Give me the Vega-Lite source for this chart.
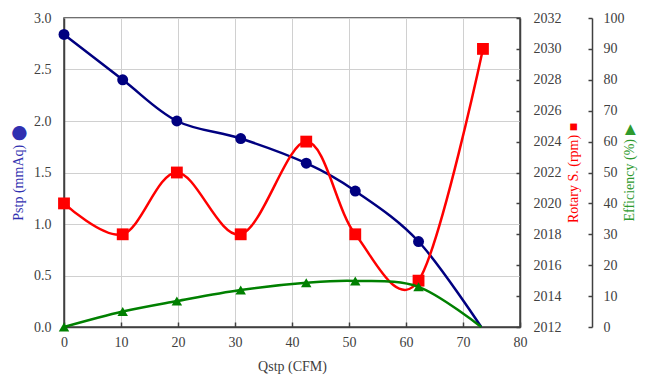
{
  "$schema": "https://vega.github.io/schema/vega-lite/v6.json",
  "width": 456,
  "height": 309,
  "autosize": {"type": "none"},
  "padding": {"left": 64, "top": 18, "right": 127, "bottom": 63},
  "background": "white",
  "config": {
    "font": "Times New Roman",
    "view": {"stroke": "#404040", "strokeWidth": 1.5},
    "style": {
      "guide-label": {"font": "Times New Roman", "fontSize": 14, "fill": "#404040"},
      "guide-title": {"font": "Times New Roman", "fontSize": 14}
    },
    "axis": {
      "labelFont": "Times New Roman",
      "titleFont": "Times New Roman",
      "labelFontSize": 14,
      "titleFontSize": 14,
      "labelColor": "#404040",
      "titleColor": "#404040",
      "titleFontWeight": "normal",
      "domainColor": "#404040",
      "domainWidth": 1.5,
      "tickColor": "#404040",
      "tickWidth": 1.5,
      "gridColor": "#d0d0d0",
      "gridWidth": 1,
      "labelFlush": false
    }
  },
  "datasets": {
    "pstp": [
      {"q": 0, "p": 2.84},
      {"q": 10.3, "p": 2.40},
      {"q": 19.8, "p": 2.00},
      {"q": 31.0, "p": 1.83},
      {"q": 42.5, "p": 1.59},
      {"q": 51.1, "p": 1.32},
      {"q": 62.2, "p": 0.83},
      {"q": 73.2, "p": 0}
    ],
    "rpm": [
      {"q": 0, "rpm": 2020},
      {"q": 10.3, "rpm": 2018},
      {"q": 19.8, "rpm": 2022},
      {"q": 31.0, "rpm": 2018},
      {"q": 42.5, "rpm": 2024},
      {"q": 51.1, "rpm": 2018},
      {"q": 62.2, "rpm": 2015},
      {"q": 73.5, "rpm": 2030}
    ],
    "eff": [
      {"q": 0, "eff": 0},
      {"q": 10.3, "eff": 5.0},
      {"q": 19.8, "eff": 8.4},
      {"q": 31.0, "eff": 12.0},
      {"q": 42.5, "eff": 14.3},
      {"q": 51.1, "eff": 14.9},
      {"q": 62.2, "eff": 13.0},
      {"q": 73.2, "eff": 0}
    ]
  },
  "encoding": {
    "x": {
      "field": "q",
      "type": "quantitative",
      "scale": {"domain": [0, 80], "nice": false},
      "axis": {
        "values": [0, 10, 20, 30, 40, 50, 60, 70, 80],
        "grid": true,
        "tickSize": -5,
        "labelPadding": 13,
        "labelFlush": false,
        "labelFont": "Times New Roman",
        "title": "Qstp (CFM)",
        "titlePadding": 10
      }
    }
  },
  "layer": [
    {
      "data": {"name": "pstp"},
      "encoding": {
        "y": {
          "field": "p",
          "type": "quantitative",
          "scale": {"domain": [0, 3], "nice": false},
          "axis": {
            "values": [0, 0.5, 1, 1.5, 2, 2.5, 3],
            "format": ".1f",
            "grid": true,
            "ticks": false,
            "labelPadding": 13,
            "labelFlush": false,
            "labelFont": "Times New Roman",
            "title": "Pstp (mmAq) ⬤",
            "titleColor": "#3030b0",
            "titlePadding": 8
          }
        }
      },
      "layer": [
        {"mark": {"type": "line", "color": "#000080", "strokeWidth": 2.5, "interpolate": "cardinal"}},
        {
          "transform": [{"filter": "datum.q < 73"}],
          "mark": {"type": "point", "shape": "circle", "filled": true, "color": "#000080", "size": 120, "opacity": 1}
        }
      ]
    },
    {
      "data": {"name": "rpm"},
      "encoding": {
        "y": {
          "field": "rpm",
          "type": "quantitative",
          "scale": {"domain": [2012, 2032], "nice": false, "zero": false},
          "axis": {
            "orient": "right",
            "values": [2012, 2014, 2016, 2018, 2020, 2022, 2024, 2026, 2028, 2030, 2032],
            "format": "d",
            "grid": false,
            "tickSize": -4,
            "labelPadding": 17,
            "labelFlush": false,
            "labelFont": "Times New Roman",
            "title": "Rotary S. (rpm) ■",
            "titleAngle": 270,
            "titleColor": "#ff0000",
            "titlePadding": 19
          }
        }
      },
      "layer": [
        {"mark": {"type": "line", "color": "#ff0000", "strokeWidth": 2.5, "interpolate": "cardinal"}},
        {"mark": {"type": "square", "filled": true, "color": "#ff0000", "size": 140, "opacity": 1}}
      ]
    },
    {
      "data": {"name": "eff"},
      "encoding": {
        "y": {
          "field": "eff",
          "type": "quantitative",
          "scale": {"domain": [0, 100], "nice": false},
          "axis": {
            "orient": "right",
            "offset": 72,
            "values": [0, 10, 20, 30, 40, 50, 60, 70, 80, 90, 100],
            "grid": false,
            "tickSize": -4,
            "labelPadding": 15,
            "labelFlush": false,
            "labelFont": "Times New Roman",
            "title": "Efficiency (%) ▶",
            "titleAngle": 270,
            "titleColor": "#2e9a2e",
            "titlePadding": 12
          }
        }
      },
      "layer": [
        {"mark": {"type": "line", "color": "#008000", "strokeWidth": 2.5, "interpolate": "cardinal"}},
        {
          "transform": [{"filter": "datum.q < 73"}],
          "mark": {"type": "point", "shape": "triangle-up", "filled": true, "color": "#008000", "size": 110, "opacity": 1}
        }
      ]
    }
  ],
  "resolve": {"scale": {"y": "independent"}}
}
